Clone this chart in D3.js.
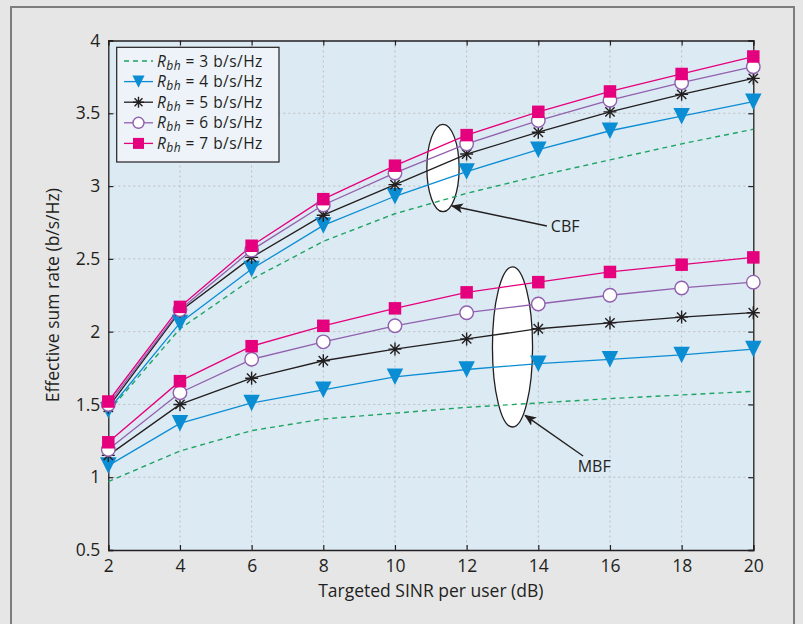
<!DOCTYPE html>
<html><head><meta charset="utf-8">
<script src="https://cdn.jsdelivr.net/npm/d3@7"></script>
<style>
body{margin:0;background:#e6e6e7;}
svg{display:block;}
text{font-family:"Open Sans","Noto Sans",sans-serif;fill:#231f20;}
</style></head><body>
<svg id="c" width="803" height="624"></svg>
<script>
const sinr = [2,4,6,8,10,12,14,16,18,20];
const xTicks = [2,4,6,8,10,12,14,16,18,20];
const yTicks = [0.5,1,1.5,2,2.5,3,3.5,4];
const rbhLabels = ["3","4","5","6","7"];
// CBF curves
const cbf3 = [1.45,2.02,2.36,2.62,2.81,2.95,3.07,3.18,3.29,3.39];
const cbf4 = [1.46,2.06,2.43,2.73,2.93,3.10,3.25,3.38,3.48,3.58];
const cbf5 = [1.48,2.14,2.51,2.80,3.01,3.22,3.37,3.51,3.63,3.74];
const cbf6 = [1.50,2.15,2.56,2.87,3.09,3.29,3.45,3.59,3.71,3.82];
const cbf7 = [1.52,2.17,2.59,2.91,3.14,3.35,3.51,3.65,3.77,3.89];
// MBF curves
const mbf3 = [0.97,1.18,1.32,1.40,1.44,1.48,1.51,1.54,1.565,1.59];
const mbf4 = [1.08,1.37,1.51,1.60,1.69,1.74,1.78,1.81,1.84,1.88];
const mbf5 = [1.15,1.50,1.68,1.80,1.88,1.95,2.02,2.06,2.10,2.13];
const mbf6 = [1.19,1.58,1.81,1.93,2.04,2.13,2.19,2.25,2.30,2.34];
const mbf7 = [1.24,1.66,1.90,2.04,2.16,2.27,2.34,2.41,2.46,2.51];
const colors = ["#1fa463","#0b8dd4","#231f20","#9160ae","#e5007d"];
const markers = ["none","tri","star","circle","square"];

const svg = d3.select("#c");
// outer frame
svg.append("path").attr("d","M11,624 V7 H794 V624").attr("fill","none").attr("stroke","#7d7d7d").attr("stroke-width",2);

const L=108.3,R=753.3,T=40.5,B=550;
const x = d3.scaleLinear().domain([2,20]).range([L,R]);
const y = d3.scaleLinear().domain([0.5,4]).range([B,T]);

svg.append("rect").attr("x",L).attr("y",T).attr("width",R-L).attr("height",B-T).attr("fill","#dceaf4");

// grid
const g = svg.append("g");
g.selectAll(".gx").data(xTicks.slice(1,-1)).join("line")
 .attr("x1",d=>x(d)).attr("x2",d=>x(d)).attr("y1",T).attr("y2",B)
 .attr("stroke","#bdbdbd").attr("stroke-width",1).attr("stroke-dasharray","2,3");
g.selectAll(".gy").data(yTicks.slice(1,-1)).join("line")
 .attr("y1",d=>y(d)).attr("y2",d=>y(d)).attr("x1",L).attr("x2",R)
 .attr("stroke","#bdbdbd").attr("stroke-width",1).attr("stroke-dasharray","2,3");

// annotations (ellipses) in data coordinates
function ellipse(cx,cy,rx,ry){
  svg.append("ellipse").attr("cx",x(cx)).attr("cy",y(cy))
   .attr("rx",x(cx+rx)-x(cx)).attr("ry",y(cy)-y(cy+ry))
   .attr("fill","#ffffff").attr("stroke","#231f20").attr("stroke-width",1.3);
}
ellipse(11.34,3.124,0.45,0.30);
ellipse(13.28,1.895,0.56,0.55);

// axes
const xAxis = d3.axisBottom(x).tickValues(xTicks).tickSize(-5).tickPadding(10).tickFormat(d3.format("d"));
const yAxis = d3.axisLeft(y).tickValues(yTicks).tickSize(-5).tickPadding(8).tickFormat(d=>String(d));
const gx = svg.append("g").attr("transform",`translate(0,${B})`).call(xAxis);
const gy = svg.append("g").attr("transform",`translate(${L},0)`).call(yAxis);
const gxt = svg.append("g").attr("transform",`translate(0,${T})`).call(d3.axisTop(x).tickValues(xTicks).tickSize(-5).tickFormat(""));
const gyr = svg.append("g").attr("transform",`translate(${R},0)`).call(d3.axisRight(y).tickValues(yTicks).tickSize(-5).tickFormat(""));
[gx,gy,gxt,gyr].forEach(a=>{
  a.select(".domain").attr("stroke","#231f20").attr("stroke-width",1.3);
  a.selectAll(".tick line").attr("stroke","#231f20").attr("stroke-width",1.2);
  a.selectAll("text").attr("font-size",17.5).attr("fill","#231f20").attr("font-family",'"Open Sans",sans-serif');
});

// series
const cbf = [cbf3,cbf4,cbf5,cbf6,cbf7];
const mbf = [mbf3,mbf4,mbf5,mbf6,mbf7];
const line = d3.line().x((d,i)=>x(sinr[i])).y(d=>y(d));

function drawMarker(sel,type,color,cx,cy,s){
  if(type==="square"){
    sel.append("rect").attr("x",cx-s/2).attr("y",cy-s/2).attr("width",s).attr("height",s).attr("fill",color);
  } else if(type==="circle"){
    sel.append("circle").attr("cx",cx).attr("cy",cy).attr("r",s/2).attr("fill","#ffffff").attr("stroke",color).attr("stroke-width",1.4);
  } else if(type==="tri"){
    const w=s*0.55,h=s*0.55;
    sel.append("path").attr("d",`M${cx-w},${cy-h} L${cx+w},${cy-h} L${cx},${cy+h} Z`).attr("fill",color);
  } else if(type==="star"){
    const r=s/2, r2=r*0.72;
    sel.append("path").attr("d",`M${cx-r},${cy}H${cx+r}M${cx},${cy-r}V${cy+r}M${cx-r2},${cy-r2}L${cx+r2},${cy+r2}M${cx-r2},${cy+r2}L${cx+r2},${cy-r2}`)
      .attr("stroke",color).attr("stroke-width",1.4).attr("fill","none");
  }
}
const msize = [0,15,13,13.5,12.5];
[cbf,mbf].forEach(group=>{
  group.forEach((vals,k)=>{
    svg.append("path").datum(vals).attr("d",line).attr("fill","none")
      .attr("stroke",colors[k]).attr("stroke-width",k===0?1.4:1.3)
      .attr("stroke-dasharray",k===0?"5,4":null);
  });
});
[cbf,mbf].forEach(group=>{
  group.forEach((vals,k)=>{
    if(markers[k]==="none") return;
    const mg = svg.append("g");
    vals.forEach((v,i)=>drawMarker(mg,markers[k],colors[k],x(sinr[i]),y(v),msize[k]));
  });
});

// arrows and labels
const defs = svg.append("defs");
defs.append("marker").attr("id","ah").attr("viewBox","0 0 12 10").attr("refX",11).attr("refY",5)
 .attr("markerWidth",12).attr("markerHeight",10).attr("markerUnits","userSpaceOnUse").attr("orient","auto")
 .append("path").attr("d","M0,0 L12,5 L0,10 L3,5 Z").attr("fill","#231f20");
function arrow(x1,y1,x2,y2){
  svg.append("line").attr("x1",x(x1)).attr("y1",y(y1)).attr("x2",x(x2)).attr("y2",y(y2))
   .attr("stroke","#231f20").attr("stroke-width",1.4).attr("marker-end","url(#ah)");
}
arrow(14.24,2.726,11.59,2.863);
arrow(15.25,1.146,13.63,1.425);
svg.append("text").attr("x",x(14.75)).attr("y",y(2.685)).attr("text-anchor","middle").attr("font-size",16).text("CBF");
svg.append("text").attr("x",x(15.56)).attr("y",y(1.036)).attr("text-anchor","middle").attr("font-size",16).text("MBF");

// axis titles
svg.append("text").attr("x",(L+R)/2).attr("y",597).attr("text-anchor","middle").attr("font-size",17.5).text("Targeted SINR per user (dB)");
svg.append("text").attr("transform",`translate(59,${(T+B)/2}) rotate(-90)`).attr("text-anchor","middle").attr("font-size",17.5).text("Effective sum rate (b/s/Hz)");

// legend
const lg = svg.append("g");
lg.append("rect").attr("x",116.7).attr("y",47.3).attr("width",162.3).attr("height",114.7).attr("fill","#edf3f9").attr("stroke","#231f20").attr("stroke-width",1.2);
rbhLabels.forEach((lab,k)=>{
  const yy = 61 + k*20.6;
  lg.append("line").attr("x1",124).attr("x2",153).attr("y1",yy).attr("y2",yy)
    .attr("stroke",colors[k]).attr("stroke-width",1.3).attr("stroke-dasharray",k===0?"5,4":null);
  if(markers[k]!=="none") drawMarker(lg,markers[k],colors[k],138.5,yy,11);
  const t = lg.append("text").attr("x",157).attr("y",yy+5.5).attr("font-size",15.5).attr("letter-spacing",0.45);
  t.append("tspan").attr("font-style","italic").text("R");
  t.append("tspan").attr("font-style","italic").attr("font-size",12).attr("dy",3).text("bh");
  t.append("tspan").attr("dy",-3).text(" = "+lab+" b/s/Hz");
});
</script></body></html>
